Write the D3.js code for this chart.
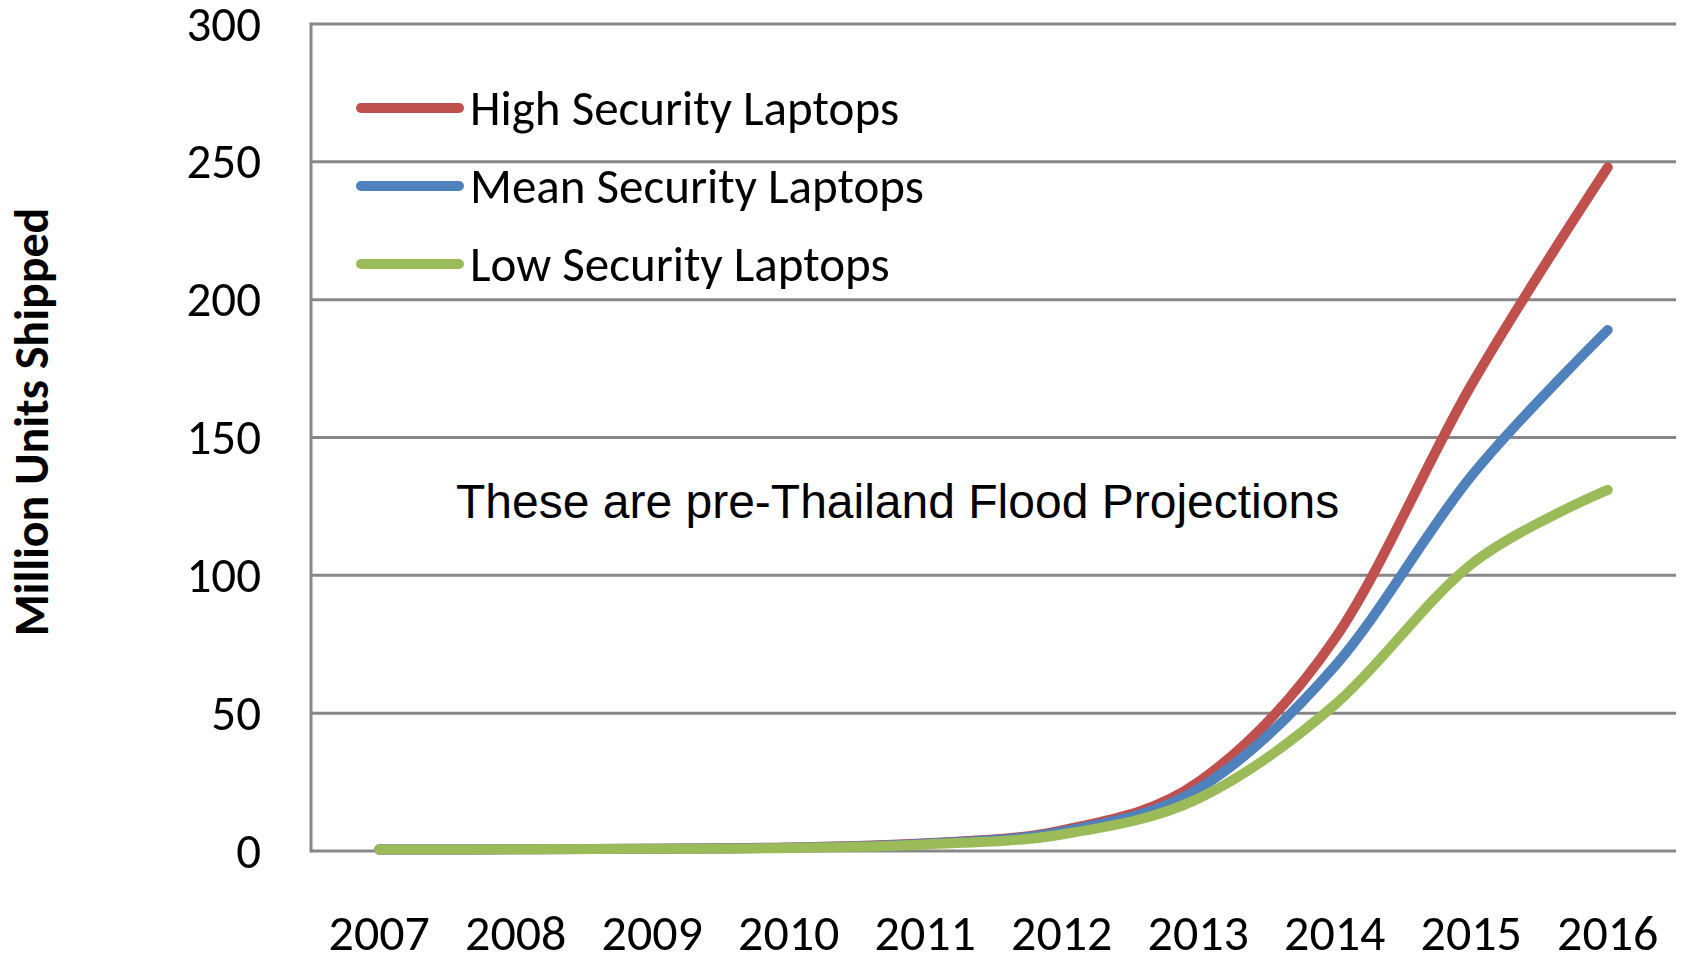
<!DOCTYPE html>
<html>
<head>
<meta charset="utf-8">
<script src="https://cdn.jsdelivr.net/npm/d3@7"></script>
<style>
  body { margin: 0; background: #fff; }
</style>
</head>
<body>
<script>
// VARIABLES CADRE
const largeur = 1683;
const hauteur = 956;

// Les données (millions d'unités)
const annees = ["2007", "2008", "2009", "2010", "2011", "2012", "2013", "2014", "2015", "2016"];
const haute = [0.5, 0.6, 0.8, 1.3, 2.8, 7.5, 25, 77, 169, 248];
const moyenne = [0.5, 0.6, 0.8, 1.2, 2.6, 7, 22.5, 67, 136, 189];
const basse = [0.5, 0.6, 0.8, 1.1, 2.4, 6, 19, 53, 104, 131];
const ticksY = [0, 50, 100, 150, 200, 250, 300];

const series = [
  { nom: "High Security Laptops", valeurs: haute, couleur: "#C0504D" },
  { nom: "Mean Security Laptops", valeurs: moyenne, couleur: "#4F81BD" },
  { nom: "Low Security Laptops", valeurs: basse, couleur: "#9BBB59" }
];

const policeCalibri = "Carlito, Calibri, Lato, sans-serif";
const policeArial = "'Liberation Sans', Arial, sans-serif";

// zone du graphique
const zone = { gauche: 311, droite: 1676, haut: 24, bas: 851 };

const svg = d3
  .select("body")
  .append("svg")
  .attr("width", largeur)
  .attr("height", hauteur);

// échelles
const x = d3.scalePoint()
  .domain(annees)
  .range([zone.gauche, zone.droite])
  .padding(0.5);

const y = d3.scaleLinear()
  .domain([0, 300])
  .range([zone.bas, zone.haut]);

// lignes horizontales
svg.append("g")
  .selectAll("line")
  .data(ticksY)
  .join("line")
  .attr("x1", zone.gauche)
  .attr("x2", zone.droite)
  .attr("y1", d => y(d))
  .attr("y2", d => y(d))
  .attr("stroke", "#878787")
  .attr("stroke-width", 3);

// axe vertical
svg.append("line")
  .attr("x1", zone.gauche)
  .attr("x2", zone.gauche)
  .attr("y1", y(300) - 1.5)
  .attr("y2", y(0) + 1.5)
  .attr("stroke", "#878787")
  .attr("stroke-width", 3);

// étiquettes Y
svg.append("g")
  .selectAll("text")
  .data(ticksY)
  .join("text")
  .attr("x", 261)
  .attr("y", d => y(d))
  .attr("dy", "0.34em")
  .attr("text-anchor", "end")
  .style("font-family", policeCalibri)
  .style("font-size", "49px")
  .text(d => d);

// étiquettes X
svg.append("g")
  .selectAll("text")
  .data(annees)
  .join("text")
  .attr("x", d => x(d))
  .attr("y", 950)
  .attr("text-anchor", "middle")
  .style("font-family", policeCalibri)
  .style("font-size", "50px")
  .text(d => d);

// titre de l'axe
svg.append("text")
  .attr("transform", "translate(48, 422) rotate(-90)")
  .attr("text-anchor", "middle")
  .style("font-family", policeCalibri)
  .style("font-weight", "bold")
  .style("font-size", "48px")
  .text("Million Units Shipped");

// les courbes lissées
const ligne = d3.line()
  .x((d, i) => x(annees[i]))
  .y(d => y(d))
  .curve(d3.curveCardinal.tension(0));

svg.append("g")
  .selectAll("path")
  .data(series)
  .join("path")
  .attr("d", d => ligne(d.valeurs))
  .attr("fill", "none")
  .attr("stroke", d => d.couleur)
  .attr("stroke-width", 10)
  .attr("stroke-linecap", "round")
  .attr("stroke-linejoin", "round");

// légende
const legende = svg.append("g")
  .selectAll("g")
  .data(series)
  .join("g")
  .attr("transform", (d, i) => `translate(0, ${108 + i * 78})`);

legende.append("line")
  .attr("x1", 361)
  .attr("x2", 459)
  .attr("stroke", d => d.couleur)
  .attr("stroke-width", 10)
  .attr("stroke-linecap", "round");

legende.append("text")
  .attr("x", 470)
  .attr("dy", "0.34em")
  .style("font-family", policeCalibri)
  .style("font-size", "49px")
  .text(d => d.nom);

// la note
svg.append("text")
  .attr("x", 456)
  .attr("y", 518)
  .style("font-family", policeArial)
  .style("font-size", "48px")
  .text("These are pre-Thailand Flood Projections");
</script>
</body>
</html>
